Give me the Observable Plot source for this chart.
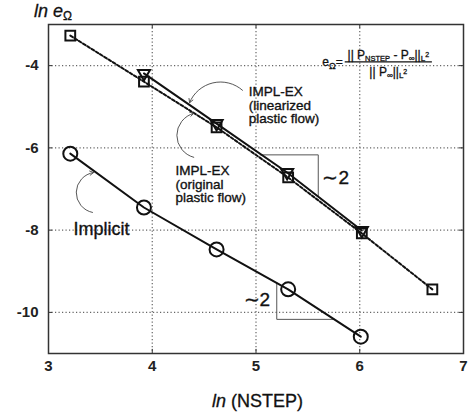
<!DOCTYPE html>
<html><head><meta charset="utf-8">
<script src="https://cdn.jsdelivr.net/npm/d3@7"></script>
<script src="https://cdn.jsdelivr.net/npm/@observablehq/plot@0.6"></script>
<style>
body{margin:0;background:#fff;}
#chart{width:470px;height:415px;}
</style></head><body><div id="chart"></div>
<script>
// ln(NSTEP) values and ln(e_Omega) values
const implicitX = [3.21, 3.92, 4.62, 5.31, 6.01];
const implicitY = [-6.14, -7.45, -8.47, -9.44, -10.59];
const origX = [3.21, 3.92, 4.62, 5.31, 6.02, 6.70];
const origY = [-3.27, -4.39, -5.50, -6.72, -8.08, -9.44];
const linX = [3.92, 4.62, 5.30, 6.02];
const linY = [-4.19, -5.41, -6.60, -8.01];
const xTicks = [3, 4, 5, 6, 7];
const yTicks = [-4, -6, -8, -10];
const gridXs = [4, 5, 6];
// slope triangles
const upperTriX = [5.04, 5.60, 5.60];
const upperTriY = [-6.17, -6.17, -7.17];
const lowerTriX = [5.20, 5.20, 5.75];
const lowerTriY = [-9.29, -10.17, -10.17];
// annotation arrows (x1,y1 -> x2,y2, bend)
const arrowX1 = [4.87, 4.40, 3.424];
const arrowY1 = [-4.60, -6.23, -7.57];
const arrowX2 = [4.36, 4.40, 3.434];
const arrowY2 = [-4.90, -5.16, -6.60];
const arrowBend = [-55, 75, 80];
// annotation labels
const labelTexts = ["IMPL-EX\n(linearized\nplastic flow)", "IMPL-EX\n(original\nplastic flow)"];
const labelX = [4.93, 4.224];
const labelY = [-4.97, -6.89];
const slopeTexts = ["∼2", "∼2"];
const slopeX = [5.64, 4.88];
const slopeY = [-6.72, -9.69];

const zip = (xs, ys) => xs.map((x, i) => ({x, y: ys[i]}));
const implicit = zip(implicitX, implicitY);
const orig = zip(origX, origY);
const lin = zip(linX, linY);
const arrows = arrowX1.map((x1, i) => ({x1, y1: arrowY1[i], x2: arrowX2[i], y2: arrowY2[i], bend: arrowBend[i]}));
const labels = labelTexts.map((t, i) => ({t, x: labelX[i], y: labelY[i]}));
const slopes = slopeTexts.map((t, i) => ({t, x: slopeX[i], y: slopeY[i]}));

const font = "'Liberation Sans', Arial, Helvetica, sans-serif";
const heavy = {stroke: "#111", strokeWidth: 0.35};
const svg = Plot.plot({
  width: 470, height: 415,
  marginTop: 24, marginBottom: 62, marginLeft: 48, marginRight: 7,
  x: {domain: [3, 7], label: null},
  y: {domain: [-11, -3], label: null},
  style: {fontFamily: font, background: "white", color: "#111"},
  marks: [
    Plot.gridX(gridXs, {stroke: "#666", strokeOpacity: 1, strokeDasharray: "1.2,2.3", strokeWidth: 1.2}),
    Plot.gridY(yTicks, {stroke: "#666", strokeOpacity: 1, strokeDasharray: "1.2,2.3", strokeWidth: 1.2}),
    Plot.ruleX(gridXs, {y1: -3, y2: -3.1, stroke: "#333", strokeWidth: 1}),
    Plot.ruleX(gridXs, {y1: -11, y2: -10.9, stroke: "#333", strokeWidth: 1}),
    Plot.ruleY(yTicks, {x1: 3, x2: 3.04, stroke: "#333", strokeWidth: 1}),
    Plot.ruleY(yTicks, {x1: 7, x2: 6.96, stroke: "#333", strokeWidth: 1}),
    Plot.axisX(xTicks, {tickSize: 0, tickPadding: 7, fontSize: 15, fontWeight: "bold", fill: "#222", tickFormat: d => String(d)}),
    Plot.axisY(yTicks, {tickSize: 0, tickPadding: 10, fontSize: 15, fontWeight: "bold", fill: "#222", tickFormat: d => String(d)}),
    Plot.line(zip(upperTriX, upperTriY), {x: "x", y: "y", stroke: "#555", strokeWidth: 1}),
    Plot.line(zip(lowerTriX, lowerTriY), {x: "x", y: "y", stroke: "#555", strokeWidth: 1}),
    Plot.line(orig, {x: "x", y: "y", stroke: "#111", strokeWidth: 2, strokeDasharray: "3,2"}),
    Plot.line(lin, {x: "x", y: "y", stroke: "#111", strokeWidth: 2}),
    Plot.line(implicit, {x: "x", y: "y", stroke: "#111", strokeWidth: 2}),
    Plot.dot(implicit, {x: "x", y: "y", r: 7, stroke: "#111", strokeWidth: 2, fill: "none"}),
    Plot.dot(orig, {x: "x", y: "y", r: 5.5, symbol: "square", stroke: "#111", strokeWidth: 2, fill: "none"}),
    Plot.dot(lin, {x: "x", y: "y", r: 4.5, symbol: "triangle", rotate: 180, stroke: "#111", strokeWidth: 2, fill: "none"}),
    Plot.frame({stroke: "#333", strokeWidth: 1.5}),
    ...arrows.map(a => Plot.arrow([a], {x1: "x1", y1: "y1", x2: "x2", y2: "y2", bend: a.bend, stroke: "#444", strokeWidth: 0.9, headLength: 7})),
    Plot.text(labels, {x: "x", y: "y", text: "t", textAnchor: "start", fontSize: 13.5, lineHeight: 1.0, fill: "#111", ...heavy}),
    Plot.text(slopes, {x: "x", y: "y", text: "t", textAnchor: "start", fontSize: 19, fill: "#111", ...heavy}),
    Plot.text(["Implicit"], {x: 3.24, y: -7.985, text: d => d, textAnchor: "start", fontSize: 18, fill: "#111", ...heavy})
  ]
});

const sx = svg.scale("x"), sy = svg.scale("y");
const g = d3.select(svg).append("g").attr("font-family", font).attr("fill", "#111")
  .attr("stroke", "#111").attr("stroke-width", 0.3);

// y axis label: ln e_Ω
const yl = g.append("text").attr("x", sx.apply(3) + 5).attr("y", sy.apply(-3) - 7).attr("font-size", 18);
yl.append("tspan").attr("font-style", "italic").text("ln e");
yl.append("tspan").attr("font-size", 12).attr("dy", 3).text("Ω");

// x axis label: ln (NSTEP)
const xl = g.append("text").attr("x", sx.apply(5) + 2).attr("y", sy.apply(-11) + 54).attr("font-size", 18).attr("text-anchor", "middle");
xl.append("tspan").attr("font-style", "italic").text("ln");
xl.append("tspan").text(" (NSTEP)");

// formula
const barY = sy.apply(-3.92);
const bx1 = sx.apply(5.86), bx2 = sx.apply(6.70);
g.append("line").attr("x1", bx1).attr("x2", bx2).attr("y1", barY).attr("y2", barY).attr("stroke", "#111").attr("stroke-width", 1.3);
const el = g.append("text").attr("x", bx1 - 2).attr("y", barY + 4).attr("font-size", 12).attr("text-anchor", "end");
el.append("tspan").text("e");
el.append("tspan").attr("font-size", 9).attr("dy", 3).text("Ω");
el.append("tspan").attr("dy", -3).text("=");
const num = g.append("text").attr("x", (bx1 + bx2) / 2).attr("y", barY - 3).attr("font-size", 12).attr("text-anchor", "middle");
num.append("tspan").text("|| P");
num.append("tspan").attr("font-size", 7.5).attr("dy", 2).text("NSTEP");
num.append("tspan").attr("dy", -2).text(" - P");
num.append("tspan").attr("font-size", 8).attr("dy", 2).text("∞");
num.append("tspan").attr("dy", -2).text("||");
num.append("tspan").attr("font-size", 8).attr("dy", 2).text("L");
num.append("tspan").attr("font-size", 7).attr("dy", -4).text("2");
const den = g.append("text").attr("x", (bx1 + bx2) / 2).attr("y", barY + 14).attr("font-size", 12).attr("text-anchor", "middle");
den.append("tspan").text("|| P");
den.append("tspan").attr("font-size", 8).attr("dy", 2).text("∞");
den.append("tspan").attr("dy", -2).text("||");
den.append("tspan").attr("font-size", 8).attr("dy", 2).text("L");
den.append("tspan").attr("font-size", 7).attr("dy", -4).text("2");

document.getElementById("chart").appendChild(svg);
</script></body></html>
